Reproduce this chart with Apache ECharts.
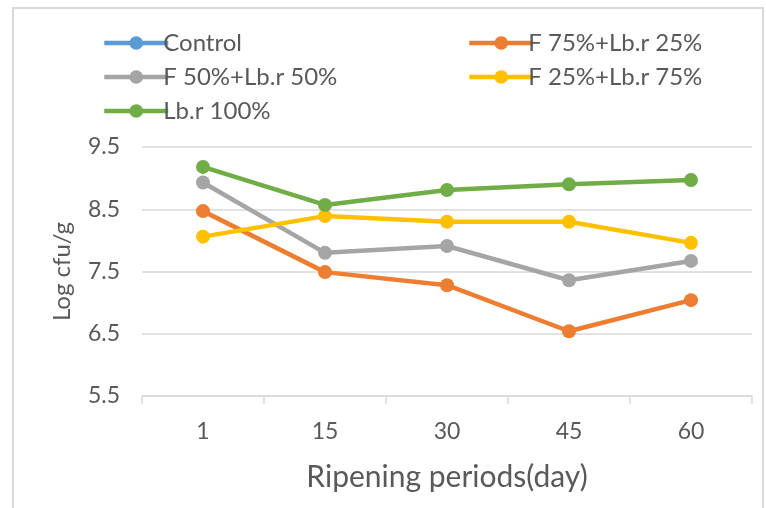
<!DOCTYPE html>
<html>
<head>
<meta charset="utf-8">
<script src="https://cdn.jsdelivr.net/npm/echarts@6/dist/echarts.min.js"></script>
<style>
  html, body { margin: 0; padding: 0; background: #fff; }
  #chart { width: 766px; height: 508px; }
</style>
</head>
<body>
<div id="chart"></div>
<script>
// Ripening days on the category axis
const days = ['1', '15', '30', '45', '60'];

// Viable counts (log cfu/g) per treatment
const control = [];
const f75lb25 = [8.47, 7.49, 7.28, 6.54, 7.04];
const f50lb50 = [8.93, 7.80, 7.91, 7.36, 7.67];
const f25lb75 = [8.06, 8.39, 8.30, 8.30, 7.96];
const lb100   = [9.18, 8.57, 8.81, 8.90, 8.97];

// Y-axis ticks
const yMin = 5.5, yMax = 9.5, yStep = 1;

const FONT = 'Lato, "Noto Sans", sans-serif';
const TEXT = '#595959';

const seriesDefs = [
  { name: 'Control',           data: control, color: '#5b9bd5' },
  { name: 'F 75%+Lb.r 25%',    data: f75lb25, color: '#ed7d31' },
  { name: 'F 50%+Lb.r 50%',    data: f50lb50, color: '#a5a5a5' },
  { name: 'F 25%+Lb.r 75%',    data: f25lb75, color: '#ffc000' },
  { name: 'Lb.r 100%',         data: lb100,   color: '#70ad47' }
];

const legendCommon = {
  orient: 'vertical',
  itemWidth: 64,
  itemHeight: 17,
  itemGap: 10,
  itemStyle: { borderWidth: 0 },
  lineStyle: { width: 4.5 },
  textStyle: { fontFamily: FONT, fontSize: 24, color: TEXT, padding: [0, 0, 0, -10] }
};

const chart = echarts.init(document.getElementById('chart'));
chart.setOption({
  backgroundColor: '#fff',
  animation: false,
  graphic: [{
    type: 'rect',
    shape: { x: 13, y: 8, width: 750, height: 520 },
    style: { fill: 'none', stroke: '#d9d9d9', lineWidth: 2 },
    silent: true
  }],
  legend: [
    Object.assign({}, legendCommon, {
      left: 97, top: 26,
      data: ['Control', 'F 50%+Lb.r 50%', 'Lb.r 100%']
    }),
    Object.assign({}, legendCommon, {
      left: 462, top: 26,
      data: ['F 75%+Lb.r 25%', 'F 25%+Lb.r 75%']
    })
  ],
  grid: { left: 142, right: 14, top: 147, bottom: 112, containLabel: false },
  xAxis: {
    type: 'category',
    data: days,
    boundaryGap: true,
    name: 'Ripening periods(day)',
    nameLocation: 'middle',
    nameMoveOverlap: false,
    nameGap: 66,
    nameTextStyle: { fontFamily: FONT, fontSize: 30, color: TEXT },
    axisLine: { lineStyle: { color: '#d9d9d9', width: 1.5 } },
    axisTick: { show: true, alignWithLabel: false, length: 8, lineStyle: { color: '#d9d9d9', width: 1.5 } },
    axisLabel: { fontFamily: FONT, fontSize: 23, color: TEXT, margin: 24 }
  },
  yAxis: {
    type: 'value',
    min: yMin, max: yMax, interval: yStep,
    name: 'Log cfu/g',
    nameLocation: 'middle',
    nameMoveOverlap: false,
    nameGap: 68,
    nameRotate: 90,
    nameTextStyle: { fontFamily: FONT, fontSize: 24, color: TEXT },
    axisLine: { show: false },
    axisTick: { show: false },
    axisLabel: { fontFamily: FONT, fontSize: 23, color: TEXT, margin: 22,
      formatter: v => v.toFixed(1) },
    splitLine: { lineStyle: { color: '#d9d9d9', width: 1.5 } }
  },
  series: seriesDefs.map(s => ({
    name: s.name,
    type: 'line',
    data: s.data,
    symbol: 'circle',
    symbolSize: 14,
    color: s.color,
    lineStyle: { width: 4.5, color: s.color },
    itemStyle: { color: s.color }
  }))
});
</script>
</body>
</html>
